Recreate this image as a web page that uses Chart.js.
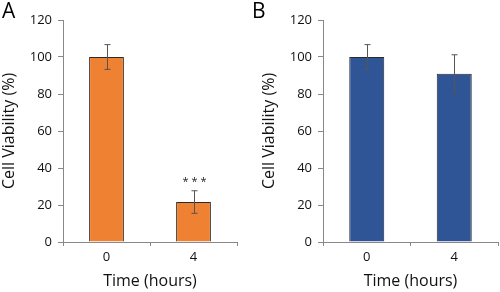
<!DOCTYPE html>
<html>
<head>
<meta charset="utf-8">
<script src="https://cdn.jsdelivr.net/npm/chart.js@4"></script>
<style>
  body { margin: 0; background: #fff; }
  .wrap { position: relative; width: 500px; height: 292px; }
  .panel { position: absolute; top: 0; width: 250px; height: 292px; }
  .letter { position: absolute; top: -4px; font: 21px "Open Sans", sans-serif; color: #000; }
</style>
</head>
<body>
<div class="wrap">
  <div class="panel" style="left:0"><canvas id="chartA" width="250" height="292"></canvas></div>
  <div class="panel" style="left:250px"><canvas id="chartB" width="250" height="292"></canvas></div>
  <div class="letter" style="left:2px">A</div>
  <div class="letter" style="left:252px">B</div>
</div>
<script>
var labels = ['0', '4'];
var valuesA = [100, 21.6];
var errorsA = [6.7, 6.1];
var starsA = ['', '***'];
var valuesB = [100, 91];
var errorsB = [6.7, 10.2];
var starsB = ['', ''];
var yTicks = [0, 20, 40, 60, 80, 100, 120];

var FONT = '"Open Sans", sans-serif';

// draws error bars and significance stars from the arrays
var errorBars = {
  id: 'errorBars',
  afterDatasetsDraw: function(chart, args, opts) {
    var ctx = chart.ctx;
    var y = chart.scales.y;
    var meta = chart.getDatasetMeta(0);
    var vals = chart.data.datasets[0].data;
    ctx.save();
    ctx.strokeStyle = '#555';
    ctx.lineWidth = 1;
    meta.data.forEach(function(bar, i) {
      var x = Math.round(bar.x) + 0.5;
      var top = y.getPixelForValue(vals[i] + opts.errors[i]);
      var bot = y.getPixelForValue(vals[i] - opts.errors[i]);
      ctx.beginPath();
      ctx.moveTo(x, top); ctx.lineTo(x, bot);
      ctx.moveTo(x - 3, top); ctx.lineTo(x + 3, top);
      ctx.moveTo(x - 3, bot); ctx.lineTo(x + 3, bot);
      ctx.stroke();
      if (opts.stars[i]) {
        ctx.fillStyle = '#222';
        ctx.font = '11px ' + FONT;
        ctx.textAlign = 'center';
        ctx.textBaseline = 'bottom';
        ctx.fillText(opts.stars[i].split('').join(' '), x, top - 3);
      }
    });
    ctx.restore();
  }
};

function makeChart(id, values, errors, stars, color, padLeft, padRight) {
  return new Chart(document.getElementById(id), {
    type: 'bar',
    data: {
      labels: labels,
      datasets: [{
        data: values,
        backgroundColor: color,
        borderColor: '#2a2a2a',
        borderWidth: 1,
        barPercentage: 0.4,
        categoryPercentage: 1
      }]
    },
    options: {
      responsive: false,
      animation: false,
      layout: { padding: { left: padLeft, right: padRight, top: 20, bottom: 0 } },
      plugins: {
        legend: { display: false },
        tooltip: { enabled: false },
        errorBars: { errors: errors, stars: stars }
      },
      scales: {
        x: {
          afterFit: function(s) { s.height = 50; },
          grid: { drawOnChartArea: false, drawTicks: true, tickLength: 4, color: '#888', offset: true },
          border: { color: '#888', width: 1 },
          ticks: { color: '#111', font: { family: FONT, size: 13 }, padding: 3 },
          title: { display: true, text: 'Time (hours)', color: '#111', font: { family: FONT, size: 16 }, padding: { top: 0, bottom: 1 } }
        },
        y: {
          min: 0, max: 120,
          afterFit: function(s) { s.width = 63; },
          afterBuildTicks: function(s) { s.ticks = yTicks.map(function(v) { return { value: v }; }); },
          grid: { drawOnChartArea: false, drawTicks: true, tickLength: 5, color: '#888' },
          border: { color: '#888', width: 1 },
          ticks: { color: '#111', font: { family: FONT, size: 13 }, padding: 6 },
          title: { display: true, text: 'Cell Viability (%)', color: '#111', font: { family: FONT, size: 16 }, padding: { top: 0, bottom: 0 } }
        }
      }
    },
    plugins: [errorBars]
  });
}

makeChart('chartA', valuesA, errorsA, starsA, '#EF8132', 0, 13);
makeChart('chartB', valuesB, errorsB, starsB, '#2F5597', 10, 2);
</script>
</body>
</html>
